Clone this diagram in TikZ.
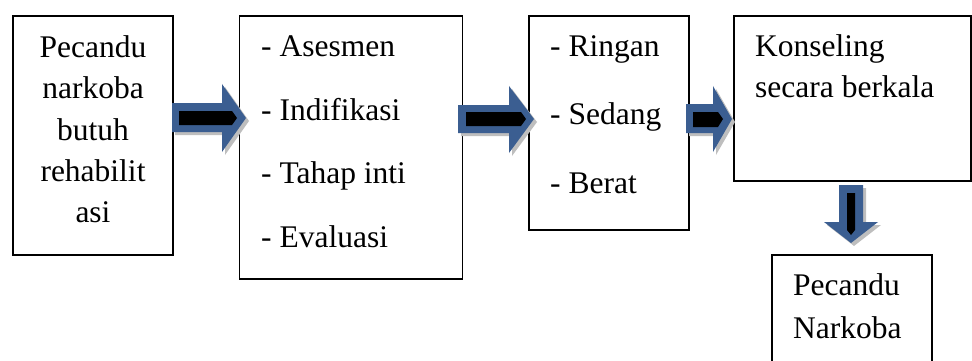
\documentclass[tikz,border=0pt]{standalone}
\usepackage{fontspec}
\setmainfont{Liberation Serif}
\definecolor{arrowblue}{RGB}{59,94,145}
\definecolor{shadowgray}{RGB}{190,190,190}
\begin{document}
\begin{tikzpicture}[x=1pt,y=-1pt,
  box/.style={draw=black, line width=1.5pt, fill=white, inner sep=0pt, outer sep=0pt},
  txt/.style={inner sep=0pt, font=\fontsize{31.5}{38}\selectfont},
  blk/.style={fill=arrowblue},
  blkin/.style={fill=black},
  shd/.style={fill=shadowgray}]
\useasboundingbox (0,0) rectangle (972,361);
\clip (0,0) rectangle (972,361);
% boxes
\node[box, minimum width=160pt, minimum height=239pt] (b1) at (93,135.5) {};
\node[box, minimum width=223pt, minimum height=263pt] (b2) at (351,147.5) {};
\node[box, minimum width=160pt, minimum height=214pt] (b3) at (609,123) {};
\node[box, minimum width=237pt, minimum height=165pt] (b4) at (852.5,98.5) {};
\node[box, minimum width=160pt, minimum height=140pt] (b5) at (852,325) {};
% box 1 text
\node[txt, anchor=base] (t1a) at (93,58) {Pecandu};
\node[txt, anchor=base] (t1b) at (93,99) {narkoba};
\node[txt, anchor=base] (t1c) at (93,140) {butuh};
\node[txt, anchor=base] (t1d) at (93,181) {rehabilit};
\node[txt, anchor=base] (t1e) at (93,222) {asi};
% box 2 text
\node[txt, anchor=base west] (t2a) at (261,57) {- Asesmen};
\node[txt, anchor=base west] (t2b) at (261,120) {- Indifikasi};
\node[txt, anchor=base west] (t2c) at (261,183) {- Tahap inti};
\node[txt, anchor=base west] (t2d) at (261,247) {- Evaluasi};
% box 3 text
\node[txt, anchor=base west] (t3a) at (550,57) {- Ringan};
\node[txt, anchor=base west] (t3b) at (550,124) {- Sedang};
\node[txt, anchor=base west] (t3c) at (550,193) {- Berat};
% box 4 text
\node[txt, anchor=base west] (t4a) at (755,57) {Konseling};
\node[txt, anchor=base west] (t4b) at (755,98) {secara berkala};
% box 5 text
\node[txt, anchor=base west] (t5a) at (793,295) {Pecandu};
\node[txt, anchor=base west] (t5b) at (793,338) {Narkoba};
% arrow 1 (b1 -> b2)
\fill[shd, shift={(3,3)}] (172,103) -- (222,103) -- (222,84) -- (246,118) -- (222,152) -- (222,132) -- (172,132) -- cycle;
\fill[blk] (172,103) -- (222,103) -- (222,84) -- (246,118) -- (222,152) -- (222,132) -- (172,132) -- cycle;
\fill[blkin] (179,111) -- (232,111) -- (237,118) -- (232,125) -- (179,125) -- cycle;
% arrow 2 (b2 -> b3)
\fill[shd, shift={(3,3)}] (458,105) -- (509,105) -- (509,86) -- (534,119) -- (509,153) -- (509,133) -- (458,133) -- cycle;
\fill[blk] (458,105) -- (509,105) -- (509,86) -- (534,119) -- (509,153) -- (509,133) -- (458,133) -- cycle;
\fill[blkin] (466,112) -- (521,112) -- (526,119) -- (521,126) -- (466,126) -- cycle;
% arrow 3 (b3 -> b4)
\fill[shd, shift={(3,3)}] (686,104) -- (713,104) -- (713,86) -- (732,119) -- (713,152) -- (713,133) -- (686,133) -- cycle;
\fill[blk] (686,104) -- (713,104) -- (713,86) -- (732,119) -- (713,152) -- (713,133) -- (686,133) -- cycle;
\fill[blkin] (693,112) -- (718,112) -- (723,119) -- (718,127) -- (693,127) -- cycle;
% arrow 4 (b4 -> b5)
\fill[shd, shift={(3,3)}] (839,185) -- (863,185) -- (863,222) -- (878,222) -- (851,243) -- (824,222) -- (839,222) -- cycle;
\fill[blk] (839,185) -- (863,185) -- (863,222) -- (878,222) -- (851,243) -- (824,222) -- (839,222) -- cycle;
\fill[blkin] (847,193) -- (855,193) -- (855,230) -- (851,235) -- (847,230) -- cycle;
\end{tikzpicture}
\end{document}
